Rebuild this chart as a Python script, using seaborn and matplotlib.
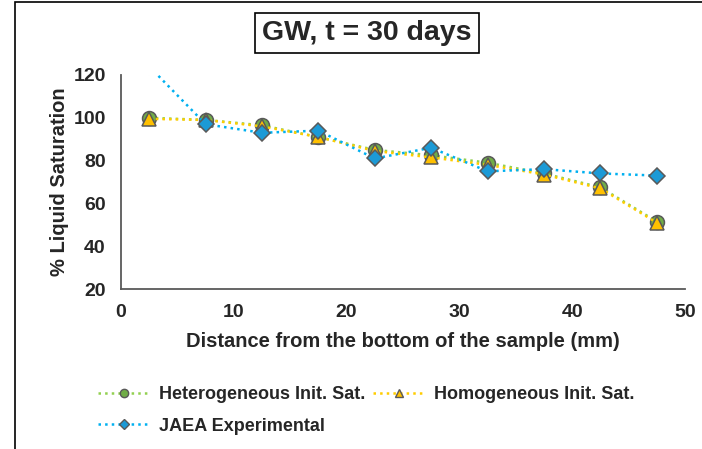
import matplotlib
matplotlib.use("Agg")
import matplotlib.pyplot as plt
import seaborn as sns
import pandas as pd
from matplotlib.lines import Line2D
from matplotlib.patches import Rectangle

# ---- data ----
distance_mm = [2.5, 7.5, 12.5, 17.5, 22.5, 27.5, 32.5, 37.5, 42.5, 47.5]
heterogeneous = [100, 99, 96.5, 91, 85, 82.5, 79, 74, 67.5, 51.5]
homogeneous = [99.5, 99, 96, 91, 84.5, 81.5, 78, 73.5, 67, 51]
jaea = [124, 97, 93, 94, 81, 86, 75, 76, 74, 73]
series_names = ["Heterogeneous Init. Sat.", "Homogeneous Init. Sat.", "JAEA Experimental"]
x_ticks = [0, 10, 20, 30, 40, 50]
y_ticks = [20, 40, 60, 80, 100, 120]

sns.set_style("white")
plt.rcParams["font.family"] = ["Liberation Sans", "DejaVu Sans"]
plt.rcParams["font.weight"] = "bold"

fig = plt.figure(figsize=(7.02, 4.49), dpi=100)
ax = fig.add_axes([121 / 702, 1 - 289 / 449, (685 - 121) / 702, (289 - 75) / 449])

edge = "#595959"
styles = [
    dict(marker="o", mfc="#70AD47", line="#92D050", ms=10),
    dict(marker="^", mfc="#FFC000", line="#FFCC00", ms=10),
    dict(marker="D", mfc="#1C9AD6", line="#00B0F0", ms=8),
]
values = [heterogeneous, homogeneous, jaea]

for name, vals, st in zip(series_names, values, styles):
    df = pd.DataFrame({"x": distance_mm, "y": vals})
    sns.lineplot(data=df, x="x", y="y", ax=ax, color=st["line"], linestyle=":",
                 linewidth=1.8, marker=st["marker"], markersize=st["ms"],
                 markerfacecolor=st["mfc"], markeredgecolor=edge,
                 markeredgewidth=1.1, legend=False)

ax.set_xlim(0, 50)
ax.set_ylim(20, 120)
ax.set_xticks(x_ticks)
ax.set_yticks(y_ticks)
ax.tick_params(axis="both", direction="in", length=4, width=1.2, color=edge,
               labelsize=14, pad=11)
for lab in ax.get_xticklabels() + ax.get_yticklabels():
    lab.set_fontweight("bold")
for s in ["top", "right"]:
    ax.spines[s].set_visible(False)
for s in ["left", "bottom"]:
    ax.spines[s].set_color(edge)
    ax.spines[s].set_linewidth(1.3)

ax.set_xlabel("Distance from the bottom of the sample (mm)", fontsize=14.5,
              fontweight="bold", labelpad=8)
ax.set_ylabel("% Liquid Saturation", fontsize=14.5, fontweight="bold", labelpad=3)

fig.text(367 / 702, 1 - 33 / 449, "GW, t = 30 days", fontsize=20.5, fontweight="bold",
         ha="center", va="center",
         bbox=dict(boxstyle="square,pad=0.25", fc="white", ec="black", lw=1.2))

# outer chart frame (left and top visible)
fig.patches.append(Rectangle((15 / 702, -0.05), 1.2, 1.05 - 2 / 449,
                             transform=fig.transFigure, fill=False,
                             ec="black", lw=1.2))

handles = []
for name, st in zip(series_names, styles):
    handles.append(Line2D([], [], color=st["line"], linestyle=":", linewidth=1.8,
                          marker=st["marker"], markersize=st["ms"] * 0.6,
                          markerfacecolor=st["mfc"], markeredgecolor=edge,
                          markeredgewidth=1.0))
order = [0, 2, 1]
fig.legend([handles[i] for i in order], [series_names[i] for i in order],
           loc="upper left", bbox_to_anchor=(82 / 702, 1 - 370 / 449), ncol=2,
           frameon=False, prop=dict(size=13, weight="bold"), handlelength=2.8,
           handletextpad=0.55, columnspacing=0.45, labelspacing=0.8)

fig.savefig("out.png", dpi=100)
